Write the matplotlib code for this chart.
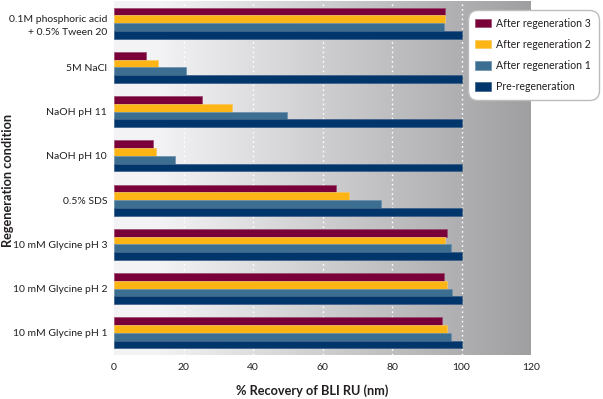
import matplotlib
matplotlib.use("Agg")
import matplotlib.pyplot as plt
import numpy as np

conditions = ["0.1M phosphoric acid\n+ 0.5% Tween 20", "5M NaCl", "NaOH pH 11", "NaOH pH 10",
              "0.5% SDS", "10 mM Glycine pH 3", "10 mM Glycine pH 2", "10 mM Glycine pH 1"]
after_reg3 = [95.3, 9.2, 25.4, 11.1, 63.9, 95.7, 95.0, 94.3]
after_reg2 = [95.2, 12.6, 34.0, 12.0, 67.7, 95.3, 95.9, 95.9]
after_reg1 = [94.9, 20.7, 49.8, 17.6, 76.8, 96.9, 97.4, 97.0]
pre_reg = [100.2, 100.2, 100.2, 100.2, 100.2, 100.2, 100.2, 100.2]
series_labels = ["After regeneration 3", "After regeneration 2", "After regeneration 1", "Pre-regeneration"]
colors = ["#7a0039", "#fdb515", "#3c6e92", "#00366b"]
edge_colors = ["#9a4a6e", "#f5c860", "#6a90ab", "#3a5e86"]
xticks = [0, 20, 40, 60, 80, 100, 120]

plt.rcParams['font.family'] = ['Lato', 'DejaVu Sans']
text_color = "#231f20"

fig = plt.figure(figsize=(6.03, 3.99), dpi=100)
ax = fig.add_axes([114/603, 1 - 355/399, (531-114)/603, (355-1)/399])

# gradient background
grad = np.linspace(0, 1, 256)
shade = np.where(grad < 0.1, 0.955, 0.955 - (grad - 0.1) / 0.9 * (0.955 - 0.625))
img = np.dstack([shade, shade, shade + 0.012])
img = np.clip(np.repeat(img, 2, axis=0), 0, 1)
ax.imshow(img, extent=[0, 120, 7.5, -0.5], aspect='auto', zorder=0, interpolation='bilinear')

n = len(conditions)
y = np.arange(n)
h = 0.175
series = [after_reg3, after_reg2, after_reg1, pre_reg]
offsets = [-1.5, -0.5, 0.5, 1.5]
for vals, off, c, ec, lab in zip(series, offsets, colors, edge_colors, series_labels):
    ax.barh(y + off * h, vals, height=h, color=c, edgecolor=ec, linewidth=0.5, label=lab, zorder=3)

for xv in [20, 40, 60, 80, 100]:
    ax.axvline(xv, color="white", linestyle=(0, (1.2, 2.2)), linewidth=1.0, zorder=1)

ax.set_xlim(0, 120)
ax.set_ylim(7.5, -0.5)
ax.set_yticks(y)
ax.set_yticklabels(conditions, fontsize=7.5, color=text_color, linespacing=1.6)
ax.set_xticks(xticks)
ax.set_xticklabels([str(t) for t in xticks], fontsize=7.5, color=text_color)
ax.tick_params(axis='both', length=0, pad=5)
ax.tick_params(axis='x', pad=6)
for s in ax.spines.values():
    s.set_visible(False)

fig.text(312/603, 1 - 391/399, "% Recovery of BLI RU (nm)", ha='center', va='center',
         fontsize=9.2, fontweight='bold', color=text_color)
fig.text(8/603, 1 - 180/399, "Regeneration condition", ha='center', va='center', rotation=90,
         fontsize=9.2, fontweight='bold', color=text_color)

leg = fig.legend(loc='upper left', bbox_to_anchor=(467.5/603, 1 - 10.5/399), fontsize=7.6,
                 frameon=True, fancybox=True, handlelength=1.5, handleheight=0.8,
                 handletextpad=0.5, labelspacing=0.95, borderpad=0.72, borderaxespad=0,
                 labelcolor=text_color)
leg.get_frame().set_edgecolor("#bcbcbc")
leg.get_frame().set_linewidth(1.0)
leg.get_frame().set_facecolor("white")
leg.get_frame().set_alpha(1.0)
leg.get_frame().set_boxstyle("round,pad=0,rounding_size=0.9")

fig.savefig("out.png", dpi=100)
